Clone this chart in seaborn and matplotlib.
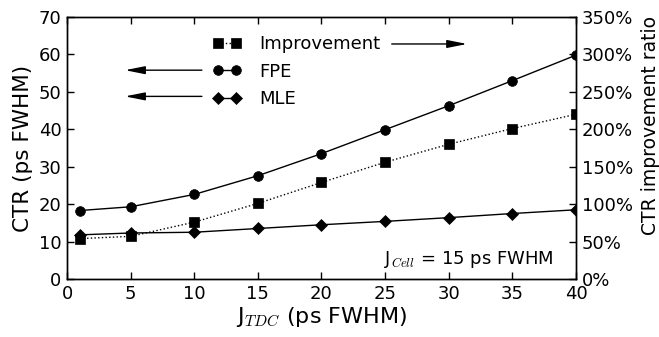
import matplotlib
matplotlib.use("Agg")
import matplotlib.pyplot as plt
import matplotlib.ticker as mticker
import seaborn as sns
import pandas as pd

# values
j_tdc = [1, 5, 10, 15, 20, 25, 30, 35, 40]
ctr_fpe = [18.3, 19.3, 22.6, 27.6, 33.5, 39.9, 46.3, 53.0, 59.8]
ctr_mle = [11.8, 12.3, 12.5, 13.5, 14.5, 15.4, 16.4, 17.5, 18.5]
improvement = [54, 57, 76, 101, 129, 156, 180, 201, 220]

df = pd.DataFrame({"j_tdc": j_tdc, "fpe": ctr_fpe, "mle": ctr_mle, "imp": improvement})

sns.set_style("ticks")
plt.rcParams["font.family"] = ["DejaVu Sans"]
plt.rcParams["mathtext.fontset"] = "cm"
plt.rcParams["xtick.direction"] = "in"
plt.rcParams["ytick.direction"] = "in"
plt.rcParams["axes.edgecolor"] = "black"
plt.rcParams["axes.linewidth"] = 1.0
for key in ["text.color", "axes.labelcolor", "xtick.color", "ytick.color"]:
    plt.rcParams[key] = "black"

fig = plt.figure(figsize=(6.59, 3.37), dpi=100)
ax = fig.add_axes([0.1017, 0.172, 0.7723, 0.7776])
ax2 = ax.twinx()

sns.lineplot(data=df, x="j_tdc", y="fpe", ax=ax, color="k", marker="o",
             markersize=7, mec="k", mew=0.5, lw=1.0, label="FPE", legend=False)
sns.lineplot(data=df, x="j_tdc", y="mle", ax=ax, color="k", marker="D",
             markersize=6, mec="k", mew=0.5, lw=1.0, label="MLE", legend=False)
sns.lineplot(data=df, x="j_tdc", y="imp", ax=ax2, color="k", marker="s",
             markersize=6.5, mec="k", mew=0.5, lw=1.0, label="Improvement", legend=False)
ax2.lines[0].set_linestyle(":")

ax.set_xlim(0, 40)
ax.set_ylim(0, 70)
ax2.set_ylim(0, 350)
ax.set_xticks(range(0, 41, 5))
ax.set_yticks(range(0, 71, 10))
ax2.set_yticks(range(0, 351, 50))
ax2.yaxis.set_major_formatter(mticker.FuncFormatter(lambda v, p: f"{v:.0f}%"))

ax.tick_params(axis="both", labelsize=13, length=5, width=1, top=True, pad=4)
ax2.tick_params(axis="y", labelsize=13, length=5, width=1, pad=4)
ax.tick_params(axis="y", right=False)

ax.set_xlabel(r"J$_{TDC}$ (ps FWHM)", fontsize=16, labelpad=2)
ax.set_ylabel("CTR (ps FWHM)", fontsize=15.5, labelpad=4)
ax2.set_ylabel("CTR improvement ratio", fontsize=13.5)
ax2.yaxis.set_label_coords(1.128, 0.584)

for sp in ax2.spines.values():
    sp.set_color("black")
    sp.set_linewidth(1.0)

h1, l1 = ax.get_legend_handles_labels()
h2, l2 = ax2.get_legend_handles_labels()
ax2.legend(h2 + h1, l2 + l1, loc="upper left", bbox_to_anchor=(0.286, 0.93),
           frameon=False, numpoints=2, fontsize=13, handlelength=1.6,
           handletextpad=1.0, labelspacing=0.52, borderpad=0, borderaxespad=0)

arrow = dict(arrowstyle="-|>,head_length=0.6,head_width=0.12", color="k",
             lw=1.0, mutation_scale=20, shrinkA=0, shrinkB=0)
ax.annotate("", xy=(0.786, 0.897), xytext=(0.638, 0.897),
            xycoords="axes fraction", arrowprops=arrow)
ax.annotate("", xy=(0.114, 0.797), xytext=(0.265, 0.797),
            xycoords="axes fraction", arrowprops=arrow)
ax.annotate("", xy=(0.114, 0.697), xytext=(0.265, 0.697),
            xycoords="axes fraction", arrowprops=arrow)

ax.text(0.957, 0.076, r"J$_{Cell}$ = 15 ps FWHM", transform=ax.transAxes,
        ha="right", va="center", fontsize=13)

fig.savefig("out.png", dpi=100)
